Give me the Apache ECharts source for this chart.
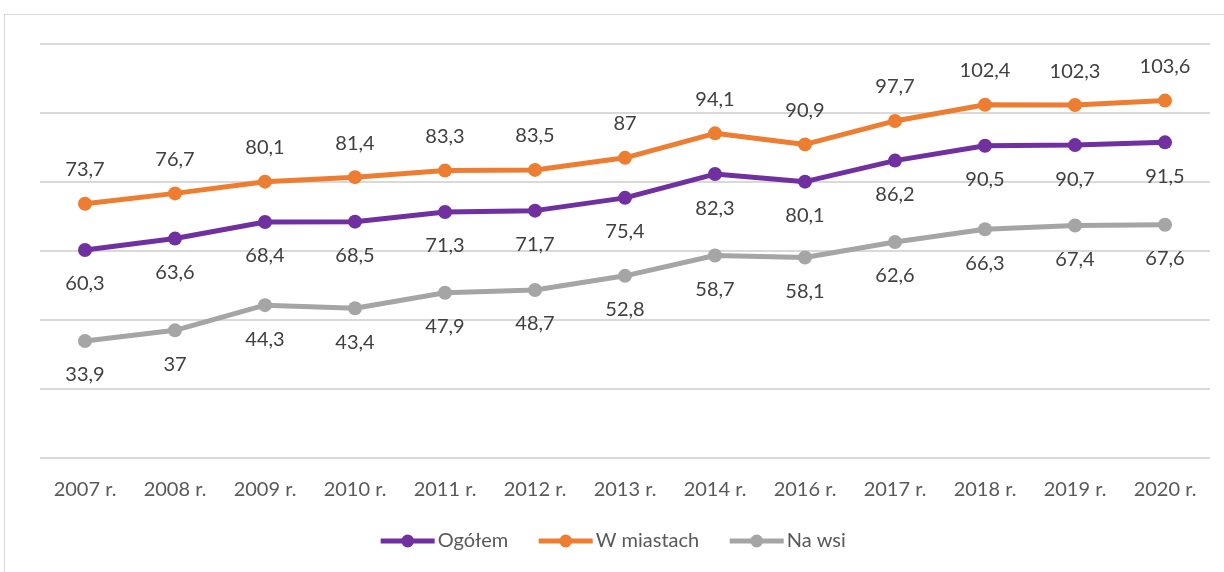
<!DOCTYPE html>
<html>
<head>
<meta charset="utf-8">
<script src="https://cdn.jsdelivr.net/npm/echarts@6/dist/echarts.min.js"></script>
<style>
  html, body { margin: 0; padding: 0; width: 1224px; height: 572px; overflow: hidden; background: #fff; }
  #frame { position: absolute; left: 4px; top: 14px; width: 1240px; height: 600px; border: 1px solid #d9d9d9; box-sizing: border-box; }
  #chart { position: absolute; left: 0; top: 0; width: 1224px; height: 572px; }
</style>
</head>
<body>
<div id="frame"></div>
<div id="chart"></div>
<script>
var years = ['2007 r.', '2008 r.', '2009 r.', '2010 r.', '2011 r.', '2012 r.', '2013 r.',
             '2014 r.', '2016 r.', '2017 r.', '2018 r.', '2019 r.', '2020 r.'];
var ogolem = [60.3, 63.6, 68.4, 68.5, 71.3, 71.7, 75.4, 82.3, 80.1, 86.2, 90.5, 90.7, 91.5];
var miasta = [73.7, 76.7, 80.1, 81.4, 83.3, 83.5, 87, 94.1, 90.9, 97.7, 102.4, 102.3, 103.6];
var wies = [33.9, 37, 44.3, 43.4, 47.9, 48.7, 52.8, 58.7, 58.1, 62.6, 66.3, 67.4, 67.6];

var font = 'Lato, "Open Sans", sans-serif';

function fmt(p) {
  return String(p.value).replace('.', ',');
}

function makeSeries(name, data, color, pos) {
  return {
    name: name,
    type: 'line',
    data: data,
    symbol: 'circle',
    symbolSize: 14,
    lineStyle: { width: 5, color: color },
    itemStyle: { color: color },
    label: {
      show: true,
      position: pos,
      distance: 17,
      formatter: fmt,
      color: '#404040',
      fontSize: 20,
      fontFamily: font
    },
    emphasis: { disabled: true }
  };
}

var myChart = echarts.init(document.getElementById('chart'));
var option = {
  animation: false,
  grid: { left: 40, right: 14, top: 44, bottom: 114 },
  legend: {
    bottom: 16,
    left: 'center',
    itemWidth: 54,
    itemHeight: 16,
    itemGap: 28,
    lineStyle: { width: 5 },
    textStyle: { color: '#595959', fontSize: 20, fontFamily: font, padding: [0, 0, 0, -2] },
    data: ['Ogółem', 'W miastach', 'Na wsi']
  },
  xAxis: {
    type: 'category',
    data: years,
    axisLine: { show: false },
    axisTick: { show: false },
    axisLabel: { color: '#595959', fontSize: 20, fontFamily: font, margin: 22 }
  },
  yAxis: {
    type: 'value',
    min: 0,
    max: 120,
    interval: 20,
    axisLabel: { show: false },
    axisLine: { show: false },
    axisTick: { show: false },
    splitLine: { lineStyle: { color: '#d9d9d9', width: 2 } }
  },
  series: [
    makeSeries('Ogółem', ogolem, '#7030A0', 'bottom'),
    makeSeries('W miastach', miasta, '#ED7D31', 'top'),
    makeSeries('Na wsi', wies, '#A5A5A5', 'bottom')
  ]
};
myChart.setOption(option);
</script>
</body>
</html>
